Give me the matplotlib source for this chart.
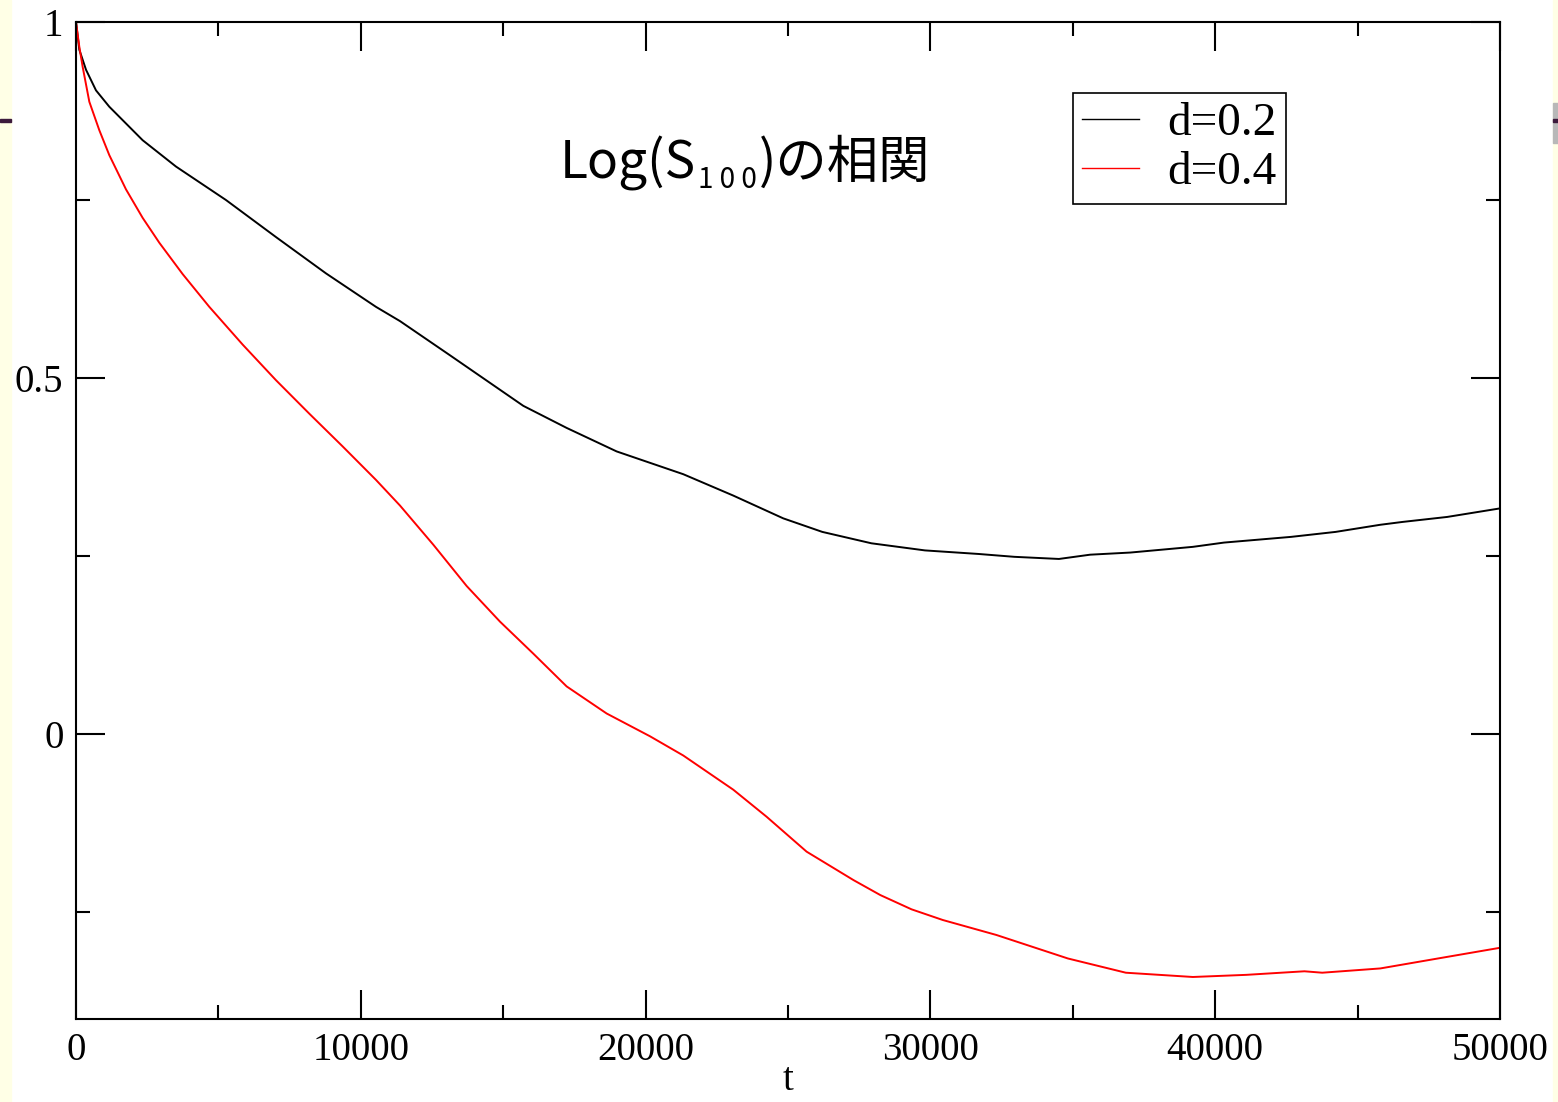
import numpy as np
import matplotlib.pyplot as plt
from matplotlib.patches import Rectangle
from matplotlib.ticker import MultipleLocator, FuncFormatter

# values
t_02 = [0, 117, 351, 702, 1170, 2340, 3511, 5267, 7022, 8778, 10533, 11376,
        13131, 15706, 17228, 18983, 21323, 23078, 24834, 26204, 27928, 29810,
        31692, 32945, 34514, 35609, 37021, 39215, 40310, 42663, 44229, 45797,
        46580, 48146, 50000]
v_02 = [1.0, 0.961, 0.933, 0.904, 0.881, 0.834, 0.797, 0.750, 0.698, 0.647,
        0.600, 0.580, 0.532, 0.461, 0.430, 0.397, 0.365, 0.335, 0.303, 0.284,
        0.268, 0.258, 0.253, 0.249, 0.246, 0.252, 0.255, 0.263, 0.269, 0.277,
        0.284, 0.294, 0.298, 0.305, 0.317]

t_04 = [0, 117, 234, 468, 819, 1170, 1755, 2340, 2926, 3745, 4681, 5852, 7022,
        8192, 9363, 10533, 11376, 12546, 13717, 14887, 16058, 17228, 18632,
        20154, 21323, 23078, 24249, 25653, 27302, 28243, 29338, 30436,
        32316, 34826, 36862, 39215, 41094, 43133, 43758, 45797, 47677, 50000]
v_04 = [1.0, 0.965, 0.937, 0.888, 0.848, 0.813, 0.765, 0.725, 0.690, 0.646,
        0.600, 0.547, 0.497, 0.450, 0.404, 0.357, 0.321, 0.266, 0.208, 0.158,
        0.113, 0.067, 0.029, -0.003, -0.030, -0.078, -0.116, -0.165,
        -0.205, -0.226, -0.246, -0.261, -0.282, -0.315, -0.335, -0.341, -0.338,
        -0.333, -0.335, -0.329, -0.316, -0.300]

labels = ['d=0.2', 'd=0.4']

W, H = 1558, 1102
fig = plt.figure(figsize=(W / 100, H / 100), dpi=100)
fig.patch.set_facecolor('white')

# slide background strips at the edges
fig.patches.append(Rectangle((0, 0), 11 / W, 1, transform=fig.transFigure,
                             color='#ffffe6', zorder=0))
fig.patches.append(Rectangle((1553 / W, 0), 5 / W, 1, transform=fig.transFigure,
                             color='#ffffe6', zorder=0))
fig.patches.append(Rectangle((0, 1 - 122 / H), 11 / W, 3 / H, transform=fig.transFigure,
                             color='#3c1a3c', zorder=1))
fig.patches.append(Rectangle((1553 / W, 1 - 143 / H), 5 / W, 40 / H, transform=fig.transFigure,
                             color='#b8b8b8', zorder=1))
fig.patches.append(Rectangle((1553 / W, 1 - 122 / H), 5 / W, 3 / H, transform=fig.transFigure,
                             color='#3c1a3c', zorder=2))

ax = fig.add_axes([76 / W, 1 - 1019 / H, (1500 - 76) / W, (1019 - 22) / H])
ax.plot(t_02, v_02, color='black', lw=1.4, label=labels[0])
ax.plot(t_04, v_04, color='red', lw=1.4, label=labels[1])

ax.set_xlim(0, 50000)
ax.set_ylim(-0.4, 1)
ax.xaxis.set_major_locator(MultipleLocator(10000))
ax.xaxis.set_minor_locator(MultipleLocator(5000))
ax.yaxis.set_major_locator(MultipleLocator(0.5))
ax.yaxis.set_minor_locator(MultipleLocator(0.25))
fmt = FuncFormatter(lambda v, p: '%g' % v)
ax.xaxis.set_major_formatter(fmt)
ax.yaxis.set_major_formatter(fmt)
ax.tick_params(which='both', direction='in', top=True, right=True, width=1.5,
               labelsize=28, labelfontfamily='Liberation Serif')
ax.tick_params(which='major', length=21, pad=9)
ax.tick_params(which='minor', length=10)
for s in ax.spines.values():
    s.set_linewidth(1.5)

ax.set_xlabel('t', family='Liberation Serif', fontsize=28, labelpad=-5)

leg = ax.legend(loc='upper left', bbox_to_anchor=(0.7001, 0.9288), borderaxespad=0,
                fancybox=False, edgecolor='black', framealpha=1,
                prop={'family': 'Liberation Serif', 'size': 34},
                handlelength=1.2, handletextpad=0.6, borderpad=0.2,
                labelspacing=0.12)
leg.get_frame().set_linewidth(1.2)
for ln in leg.get_lines():
    ln.set_linewidth(1.0)

# title text built in pieces: Log(S, subscript 100, )の相関
fam = ['Noto Sans CJK JP', 'DejaVu Sans']
fig.canvas.draw()
r = fig.canvas.get_renderer()
x = 560 / W
yb = 1 - 178 / H
t1 = fig.text(x, yb, 'Log(S', fontsize=37, family=fam, va='baseline')
x += t1.get_window_extent(r).width / W + 2 / W
t2 = fig.text(x, yb - 10 / H, '1 0 0', fontsize=20, family=fam, va='baseline')
x += t2.get_window_extent(r).width / W + 2 / W
t3 = fig.text(x, yb, ')の相関', fontsize=37, family=fam, va='baseline')

fig.savefig('out.png', dpi=100)
